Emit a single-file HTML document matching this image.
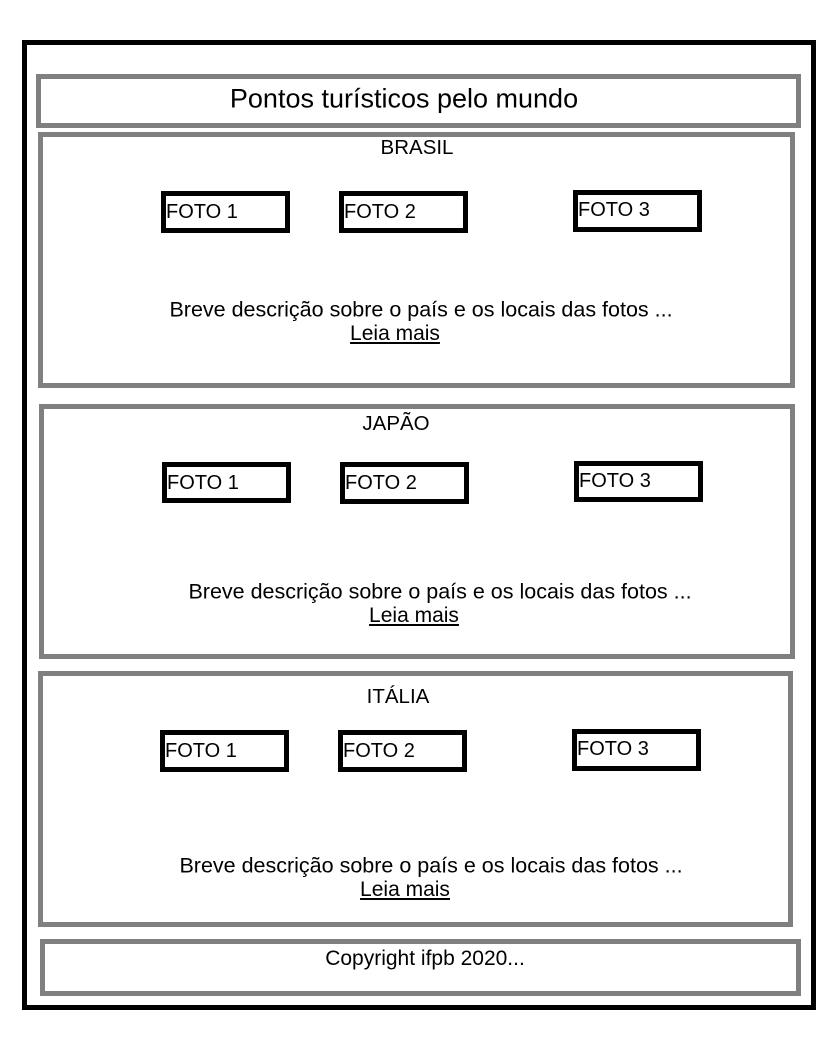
<!DOCTYPE html>
<html><head><meta charset="utf-8"><style>
body{margin:0;width:825px;height:1047px;background:#fff;position:relative;font-family:"Liberation Sans",Arial,sans-serif;color:#000;overflow:hidden}
.b{position:absolute;box-sizing:border-box}
.g{border:5px solid #808080}
.k{border:5px solid #000}
.t{position:absolute;white-space:nowrap;transform:translate(-50%,-50%);font-size:21px}
.f{position:absolute;font-size:20px;white-space:nowrap}
u{text-decoration:underline}
</style></head><body>
<div class="b k" style="left:22px;top:40px;width:794px;height:970px"></div>
<div class="b g" style="left:36px;top:74px;width:765px;height:54px"></div>
<div class="t" style="left:404px;top:99px;font-size:27px">Pontos turísticos pelo mundo</div>

<div class="b g" style="left:38px;top:132px;width:757px;height:256px"></div>
<div class="t" style="left:417px;top:148px;font-size:20.5px">BRASIL</div>
<div class="b k" style="left:161px;top:191px;width:129px;height:42px"></div><div class="f" style="left:166px;top:201px">FOTO 1</div>
<div class="b k" style="left:339px;top:191px;width:129px;height:42px"></div><div class="f" style="left:344px;top:201px">FOTO 2</div>
<div class="b k" style="left:573px;top:190px;width:129px;height:42px"></div><div class="f" style="left:578px;top:199px">FOTO 3</div>
<div class="t" style="left:421px;top:310px;font-size:21.5px">Breve descrição sobre o país e os locais das fotos ...</div>
<div class="t" style="left:395px;top:334px"><u>Leia mais</u></div>

<div class="b g" style="left:39px;top:404px;width:756px;height:255px"></div>
<div class="t" style="left:396px;top:424px;font-size:20.5px">JAPÃO</div>
<div class="b k" style="left:162px;top:462px;width:129px;height:41px"></div><div class="f" style="left:167px;top:472px">FOTO 1</div>
<div class="b k" style="left:340px;top:462px;width:129px;height:42px"></div><div class="f" style="left:345px;top:472px">FOTO 2</div>
<div class="b k" style="left:574px;top:461px;width:129px;height:41px"></div><div class="f" style="left:579px;top:470px">FOTO 3</div>
<div class="t" style="left:440px;top:592px;font-size:21.5px">Breve descrição sobre o país e os locais das fotos ...</div>
<div class="t" style="left:414px;top:616px"><u>Leia mais</u></div>

<div class="b g" style="left:38px;top:671px;width:755px;height:256px"></div>
<div class="t" style="left:398px;top:697px;font-size:20.5px">ITÁLIA</div>
<div class="b k" style="left:160px;top:730px;width:129px;height:42px"></div><div class="f" style="left:165px;top:740px">FOTO 1</div>
<div class="b k" style="left:338px;top:730px;width:129px;height:42px"></div><div class="f" style="left:343px;top:740px">FOTO 2</div>
<div class="b k" style="left:572px;top:729px;width:129px;height:42px"></div><div class="f" style="left:577px;top:738px">FOTO 3</div>
<div class="t" style="left:431px;top:866px;font-size:21.5px">Breve descrição sobre o país e os locais das fotos ...</div>
<div class="t" style="left:405px;top:890px"><u>Leia mais</u></div>

<div class="b g" style="left:40px;top:939px;width:761px;height:57px"></div>
<div class="t" style="left:425px;top:959px">Copyright ifpb 2020...</div>
</body></html>
